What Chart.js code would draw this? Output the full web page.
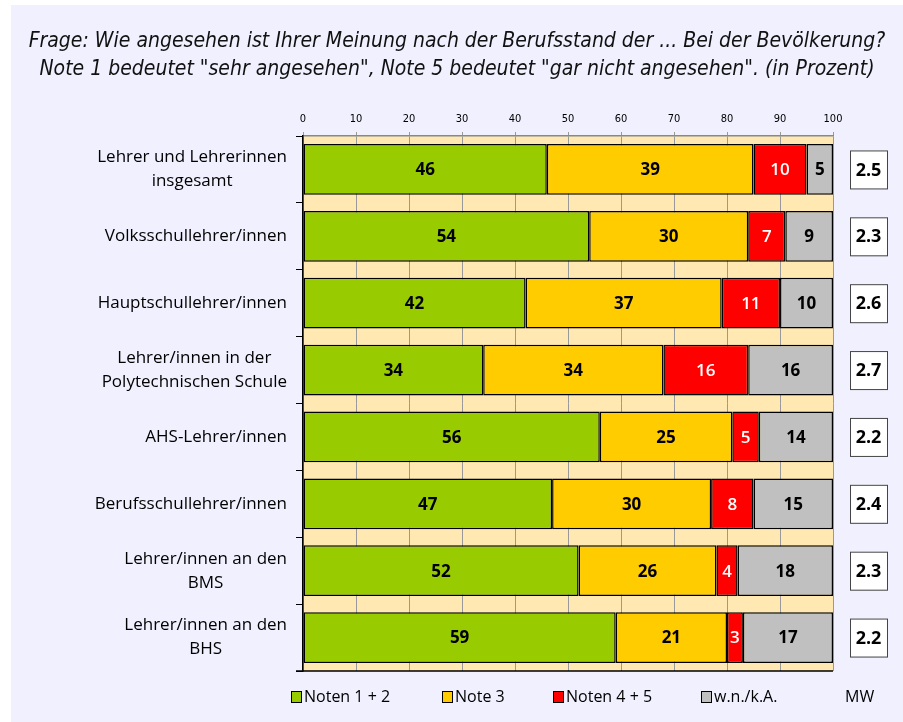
<!DOCTYPE html>
<html>
<head>
<meta charset="utf-8">
<script src="https://cdn.jsdelivr.net/npm/chart.js@4"></script>
<style>
    html, body { margin: 0; padding: 0; background: #fff; }
    #wrap { width: 903px; height: 722px; }
</style>
</head>
<body>
<div id="wrap"><canvas id="chart" width="903" height="722"></canvas></div>
<script>
// Chart data
const categories = [
    ['Lehrer und Lehrerinnen', 'insgesamt'],
    ['Volksschullehrer/innen'],
    ['Hauptschullehrer/innen'],
    ['Lehrer/innen in der', 'Polytechnischen Schule'],
    ['AHS-Lehrer/innen'],
    ['Berufsschullehrer/innen'],
    ['Lehrer/innen an den', 'BMS'],
    ['Lehrer/innen an den', 'BHS']
];
const seriesNames = ['Noten 1 + 2', 'Note 3', 'Noten 4 + 5', 'w.n./k.A.'];
const noten12 = [46, 54, 42, 34, 56, 47, 52, 59];
const note3 = [39, 30, 37, 34, 25, 30, 26, 21];
const noten45 = [10, 7, 11, 16, 5, 8, 4, 3];
const wnka = [5, 9, 10, 16, 14, 15, 18, 17];
const mwValues = ['2.5', '2.3', '2.6', '2.7', '2.2', '2.4', '2.3', '2.2'];
const mwLabel = 'MW';
const titleLines = [
    'Frage: Wie angesehen ist Ihrer Meinung nach der Berufsstand der ... Bei der Bevölkerung?',
    'Note 1 bedeutet "sehr angesehen", Note 5 bedeutet "gar nicht angesehen". (in Prozent)'
];

const colors = ['#99CC00', '#FFCC00', '#FF0000', '#C0C0C0'];
const labelColors = ['#000', '#000', '#fff', '#000'];
const FONT = '"Open Sans", "Noto Sans", sans-serif';

// Background, title, labels, MW boxes and legend
const decorPlugin = {
    id: 'decor',
    beforeDraw(chart) {
        const ctx = chart.ctx;
        const area = chart.chartArea;
        ctx.save();
        ctx.fillStyle = '#fff';
        ctx.fillRect(0, 0, chart.width, chart.height);
        ctx.fillStyle = '#F0F0FE';
        ctx.fillRect(11, 5, chart.width - 11, chart.height - 5);
        ctx.fillStyle = '#FFE8B2';
        ctx.fillRect(area.left, area.top, area.right - area.left, area.bottom - area.top);
        ctx.restore();
    },
    afterDraw(chart) {
        const ctx = chart.ctx;
        const area = chart.chartArea;
        const yScale = chart.scales.y;
        ctx.save();

        // bottom axis line
        ctx.strokeStyle = '#000';
        ctx.lineWidth = 1.5;
        ctx.beginPath();
        ctx.moveTo(area.left - 7, area.bottom);
        ctx.lineTo(area.right, area.bottom);
        ctx.stroke();

        // title
        ctx.fillStyle = '#111';
        ctx.textAlign = 'center';
        ctx.textBaseline = 'middle';
        ctx.font = 'italic 21px "DejaVu Sans Condensed", "Liberation Sans Narrow", sans-serif';
        titleLines.forEach((line, i) => ctx.fillText(line, 457, 42 + i * 28));

        // category labels: block right-aligned, lines centered
        ctx.fillStyle = '#000';
        ctx.font = '17px ' + FONT;
        categories.forEach((lines, i) => {
            const cy = yScale.getPixelForValue(i);
            const maxW = Math.max(...lines.map(l => ctx.measureText(l).width));
            const cx = area.left - 16 - maxW / 2;
            const lh = 24;
            const startY = cy - (lines.length - 1) * lh / 2;
            lines.forEach((l, j) => ctx.fillText(l, cx, startY + j * lh));
        });

        // segment values
        chart.data.datasets.forEach((ds, di) => {
            const meta = chart.getDatasetMeta(di);
            meta.data.forEach((bar, i) => {
                const p = bar.getProps(['x', 'y', 'base'], true);
                ctx.fillStyle = labelColors[di];
                ctx.font = (di === 2 ? '600 ' : 'bold ') + '17px ' + FONT;
                ctx.fillText(String(ds.data[i]), (p.x + p.base) / 2, p.y + 1);
            });
        });

        // MW boxes
        mwValues.forEach((v, i) => {
            const cy = yScale.getPixelForValue(i);
            ctx.fillStyle = '#fff';
            ctx.fillRect(850, cy - 19, 37, 38);
            ctx.strokeStyle = '#444';
            ctx.lineWidth = 1;
            ctx.strokeRect(850.5, cy - 18.5, 37, 38);
            ctx.fillStyle = '#000';
            ctx.font = 'bold 18px ' + FONT;
            ctx.fillText(v, 868.5, cy + 1);
        });

        // legend
        const legendX = [291, 442, 553, 701];
        const ly = 696;
        ctx.textAlign = 'left';
        ctx.font = '16px ' + FONT;
        seriesNames.forEach((name, i) => {
            ctx.fillStyle = colors[i];
            ctx.fillRect(legendX[i], ly - 5, 10, 11);
            ctx.strokeStyle = '#000';
            ctx.lineWidth = 1;
            ctx.strokeRect(legendX[i] + 0.5, ly - 4.5, 10, 11);
            ctx.fillStyle = '#000';
            ctx.fillText(name, legendX[i] + 13, ly + 1);
        });
        ctx.fillText(mwLabel, 845, ly + 1);

        ctx.restore();
    }
};

const datasets = [noten12, note3, noten45, wnka].map((vals, i) => ({
    label: seriesNames[i],
    data: vals,
    backgroundColor: colors[i],
    borderColor: '#000',
    borderWidth: 1.5,
    borderSkipped: false,
    barPercentage: 0.76,
    categoryPercentage: 1
}));

new Chart(document.getElementById('chart'), {
    type: 'bar',
    data: {
        labels: categories.map(c => c.join(' ')),
        datasets: datasets
    },
    options: {
        indexAxis: 'y',
        responsive: false,
        animation: false,
        layout: {
            padding: { left: 283, right: 70, top: 106, bottom: 51 }
        },
        plugins: {
            legend: { display: false },
            tooltip: { enabled: false }
        },
        scales: {
            x: {
                type: 'linear',
                position: 'top',
                stacked: true,
                min: 0,
                max: 100,
                afterFit(scale) { scale.height = 30; },
                ticks: {
                    stepSize: 10,
                    color: '#000',
                    padding: 6,
                    font: { size: 11, family: '"DejaVu Sans Condensed", "Liberation Sans Narrow", sans-serif' }
                },
                grid: { color: '#999', lineWidth: 1, tickLength: 4 },
                border: { color: '#888', width: 1.5 }
            },
            y: {
                type: 'category',
                stacked: true,
                offset: true,
                afterFit(scale) { scale.width = 20; },
                ticks: { display: false },
                grid: { drawOnChartArea: false, offset: true, color: '#000', tickLength: 7 },
                border: { color: '#000', width: 1.5 }
            }
        }
    },
    plugins: [decorPlugin]
});
</script>
</body>
</html>
